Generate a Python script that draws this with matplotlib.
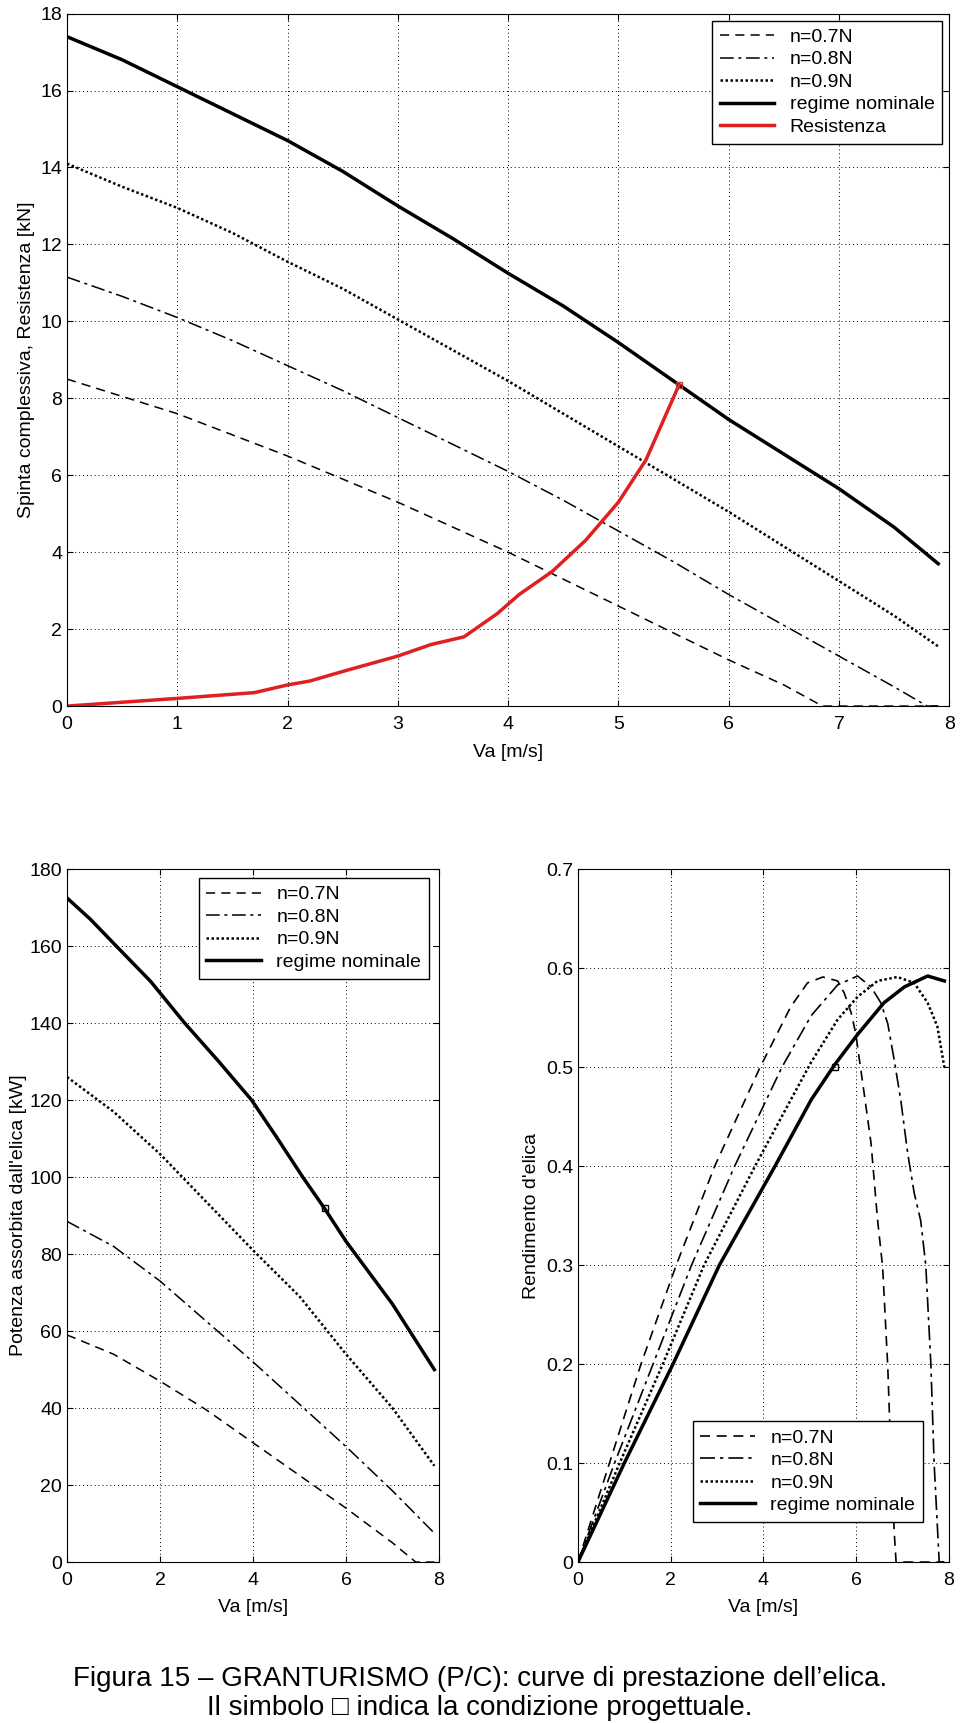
import numpy as np
import matplotlib
matplotlib.use('Agg')
import matplotlib.pyplot as plt

plt.rcParams['font.family'] = ['Liberation Sans', 'DejaVu Sans']

# --- top plot: thrust / resistance [kN] vs Va [m/s]
va_top = [0, 0.5, 1, 1.5, 2, 2.5, 3, 3.5, 4, 4.5, 5, 5.5, 6, 6.5, 7, 7.5, 7.9]
spinta_nom = [17.4, 16.8, 16.1, 15.4, 14.7, 13.9, 13.0, 12.15, 11.25, 10.4, 9.45, 8.45, 7.45, 6.55, 5.65, 4.65, 3.7]
spinta_09 = [14.1, 13.5, 12.95, 12.3, 11.55, 10.85, 10.05, 9.25, 8.45, 7.6, 6.75, 5.9, 5.05, 4.15, 3.25, 2.35, 1.55]
va_top_08 = [0, 0.5, 1, 1.5, 2, 2.5, 3, 3.5, 4, 4.5, 5, 5.5, 6, 6.5, 7, 7.5, 7.8, 7.9]
spinta_08 = [11.15, 10.65, 10.1, 9.5, 8.85, 8.2, 7.5, 6.8, 6.1, 5.35, 4.55, 3.75, 2.9, 2.1, 1.3, 0.5, 0, 0]
va_top_07 = [0, 0.5, 1, 1.5, 2, 2.5, 3, 3.5, 4, 4.5, 5, 5.5, 6, 6.5, 6.85, 7.9]
spinta_07 = [8.5, 8.05, 7.6, 7.05, 6.5, 5.9, 5.3, 4.65, 4.0, 3.3, 2.6, 1.9, 1.2, 0.55, 0, 0]
va_res = [0, 0.5, 1, 1.7, 2, 2.2, 2.5, 3, 3.3, 3.6, 3.9, 4.1, 4.4, 4.7, 5.0, 5.25, 5.55]
resistenza = [0, 0.1, 0.2, 0.35, 0.55, 0.65, 0.9, 1.3, 1.6, 1.8, 2.4, 2.9, 3.5, 4.3, 5.3, 6.4, 8.35]

# --- bottom left: absorbed power [kW]
va_pot_nom = [0, 0.5, 1.06, 1.8, 2.53, 3.25, 3.97, 4.5, 5.07, 5.53, 6, 7, 7.9]
pot_nom = [172.5, 167, 160, 150.8, 140, 130.2, 120, 110.5, 100, 92, 83.3, 67, 50]
va_pot = [0, 1, 2, 3, 4, 5, 6, 7, 7.9]
pot_09 = [126, 117, 106, 93.5, 81, 69, 54, 40, 25]
pot_08 = [88.5, 82, 73, 62.5, 52, 41, 30, 18.5, 7.5]
va_pot_07 = [0, 1, 2, 3, 4, 5, 6, 7, 7.5, 7.9]
pot_07 = [59, 54, 47, 39.5, 31, 22.5, 14, 5, 0, 0]

# --- bottom right: propeller efficiency
va_eta_nom = [0, 1.0, 2.05, 3.05, 4.25, 4.6, 5.03, 5.53, 6.03, 6.6, 7.04, 7.54, 7.9]
eta_nom = [0, 0.1, 0.2, 0.3, 0.4, 0.43, 0.467, 0.502, 0.533, 0.565, 0.581, 0.592, 0.587]
va_eta_09 = [0, 0.9, 1.83, 2.72, 3.82, 4.59, 5.03, 5.6, 6.03, 6.46, 6.89, 7.25, 7.54, 7.75, 7.9]
eta_09 = [0, 0.1, 0.2, 0.3, 0.4, 0.467, 0.505, 0.548, 0.571, 0.587, 0.591, 0.585, 0.565, 0.541, 0.5]
va_eta_08 = [0, 0.79, 1.62, 2.45, 3.38, 4.4, 5.03, 5.6, 6.03, 6.32, 6.53, 6.68, 6.82, 6.96, 7.11,
             7.25, 7.39, 7.5, 7.61, 7.68, 7.79, 7.9]
eta_08 = [0, 0.1, 0.2, 0.3, 0.4, 0.5, 0.552, 0.583, 0.592, 0.581, 0.565, 0.544, 0.507, 0.467, 0.413,
          0.373, 0.345, 0.3, 0.2, 0.1, 0, 0]
va_eta_07 = [0, 0.68, 1.36, 2.12, 2.95, 3.93, 4.59, 4.95, 5.28, 5.6, 5.74, 5.89, 5.99, 6.07, 6.17,
             6.32, 6.46, 6.57, 6.68, 6.73, 6.82, 6.86, 7.9]
eta_07 = [0, 0.1, 0.2, 0.3, 0.4, 0.5, 0.561, 0.585, 0.591, 0.587, 0.575, 0.555, 0.534, 0.507, 0.474,
          0.423, 0.346, 0.298, 0.198, 0.131, 0.03, 0, 0]

# design point
va_design = 5.55
spinta_design = 8.35
pot_design = 92
eta_design = 0.5

labels = ['n=0.7N', 'n=0.8N', 'n=0.9N', 'regime nominale']
DASH = (0, (6, 4))
DASHDOT = (0, (9, 3, 2, 3))
DOT = (0, (1, 1))
FS = 14

fig = plt.figure(figsize=(9.6, 17.23), dpi=100)


def style_axes(ax):
    ax.grid(True, color='black', linestyle=(0, (1, 3)), linewidth=0.7)
    ax.tick_params(direction='in', top=True, right=True, labelsize=FS, length=4)
    ax.tick_params(axis='x', pad=7)
    for s in ax.spines.values():
        s.set_linewidth(0.8)


def add_legend(ax, loc, anchor):
    ax.legend(loc=loc, bbox_to_anchor=anchor, fontsize=FS, fancybox=False,
              edgecolor='black', framealpha=1, handlelength=2.8, borderaxespad=0,
              labelspacing=0.25, borderpad=0.4)


ax1 = fig.add_axes([0.0698, 0.5902, 0.919, 0.4019])
ax1.plot(va_top_07, spinta_07, color='black', linestyle=DASH, linewidth=1.1, label=labels[0])
ax1.plot(va_top_08, spinta_08, color='black', linestyle=DASHDOT, linewidth=1.1, label=labels[1])
ax1.plot(va_top, spinta_09, color='black', linestyle=DOT, linewidth=1.8, label=labels[2])
ax1.plot(va_top, spinta_nom, color='black', linewidth=2.5, label=labels[3])
ax1.plot(va_res, resistenza, color='#e02020', linewidth=2.5, label='Resistenza')
ax1.plot([va_design], [spinta_design], marker='s', markersize=5, markerfacecolor='none',
         markeredgecolor='#b04040', linestyle='none')
ax1.set_xlim(0, 8)
ax1.set_ylim(0, 18)
ax1.set_xticks(range(0, 9))
ax1.set_yticks(range(0, 19, 2))
ax1.set_xlabel('Va [m/s]', fontsize=FS, labelpad=8)
ax1.set_ylabel('Spinta complessiva, Resistenza [kN]', fontsize=FS, labelpad=4)
style_axes(ax1)
add_legend(ax1, 'upper right', (0.992, 0.99))

ax2 = fig.add_axes([0.0698, 0.0934, 0.3875, 0.4022])
ax2.plot(va_pot_07, pot_07, color='black', linestyle=DASH, linewidth=1.1, label=labels[0])
ax2.plot(va_pot, pot_08, color='black', linestyle=DASHDOT, linewidth=1.1, label=labels[1])
ax2.plot(va_pot, pot_09, color='black', linestyle=DOT, linewidth=1.8, label=labels[2])
ax2.plot(va_pot_nom, pot_nom, color='black', linewidth=2.5, label=labels[3])
ax2.plot([va_design], [pot_design], marker='s', markersize=5, markerfacecolor='none',
         markeredgecolor='black', linestyle='none')
ax2.set_xlim(0, 8)
ax2.set_ylim(0, 180)
ax2.set_xticks(range(0, 9, 2))
ax2.set_yticks(range(0, 181, 20))
ax2.set_xlabel('Va [m/s]', fontsize=FS, labelpad=7)
ax2.set_ylabel("Potenza assorbita dall'elica [kW]", fontsize=FS, labelpad=2)
style_axes(ax2)
add_legend(ax2, 'upper right', (0.973, 0.987))

ax3 = fig.add_axes([0.602, 0.0934, 0.3865, 0.4022])
ax3.plot(va_eta_07, eta_07, color='black', linestyle=DASH, linewidth=1.2, label=labels[0])
ax3.plot(va_eta_08, eta_08, color='black', linestyle=DASHDOT, linewidth=1.2, label=labels[1])
ax3.plot(va_eta_09, eta_09, color='black', linestyle=DOT, linewidth=1.8, label=labels[2])
ax3.plot(va_eta_nom, eta_nom, color='black', linewidth=2.5, label=labels[3])
ax3.plot([va_design], [eta_design], marker='s', markersize=5, markerfacecolor='none',
         markeredgecolor='black', linestyle='none')
ax3.set_xlim(0, 8)
ax3.set_ylim(0, 0.7)
ax3.set_xticks(range(0, 9, 2))
eta_ticks = [0, 0.1, 0.2, 0.3, 0.4, 0.5, 0.6, 0.7]
ax3.set_yticks(eta_ticks)
ax3.set_yticklabels(['0', '0.1', '0.2', '0.3', '0.4', '0.5', '0.6', '0.7'])
ax3.set_xlabel('Va [m/s]', fontsize=FS, labelpad=7)
ax3.set_ylabel("Rendimento d'elica", fontsize=FS, labelpad=4)
style_axes(ax3)
add_legend(ax3, 'lower right', (0.93, 0.058))

fig.text(0.5, 1 - 1679 / 1723, 'Figura 15 \u2013 GRANTURISMO (P/C): curve di prestazione dell\u2019elica.',
         ha='center', va='center', fontsize=20)
fig.text(0.5, 1 - 1708 / 1723, 'Il simbolo \u25a1 indica la condizione progettuale.',
         ha='center', va='center', fontsize=20)

fig.savefig('out.png', dpi=100)
